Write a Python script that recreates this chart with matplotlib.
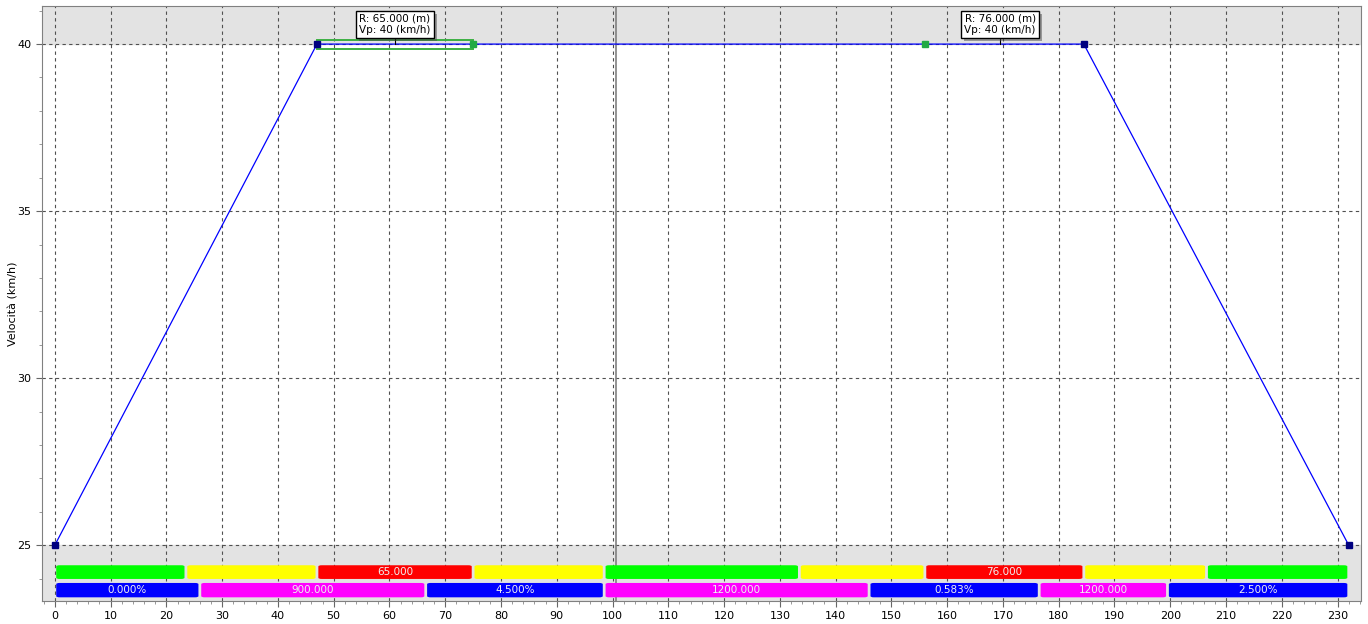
import matplotlib
matplotlib.use('Agg')
import matplotlib.pyplot as plt
import matplotlib.patheffects as pe
from matplotlib.patches import FancyBboxPatch, Rectangle
from matplotlib.ticker import MultipleLocator

# speed profile
prof_x = [0, 47, 184.5, 232]
prof_v = [25, 40, 40, 25]
green_pts_x = [75, 156]

# curve labels
curve_labels = ['R: 65.000 (m)\nVp: 40 (km/h)', 'R: 76.000 (m)\nVp: 40 (km/h)']
curve_label_x = [61, 169.5]

# plan row
plan_start = [0, 23.5, 47, 75, 98.5, 133.5, 156, 184.5, 206.5]
plan_end = [23.5, 47, 75, 98.5, 133.5, 156, 184.5, 206.5, 232]
plan_kind = ['g', 'y', 'r', 'y', 'g', 'y', 'r', 'y', 'g']
plan_text = ['', '', '65.000', '', '', '', '76.000', '', '']

# profile row
vert_start = [0, 26, 66.5, 98.5, 146, 176.5, 199.5]
vert_end = [26, 66.5, 98.5, 146, 176.5, 199.5, 232]
vert_kind = ['b', 'm', 'b', 'm', 'b', 'm', 'b']
vert_text = ['0.000%', '900.000', '4.500%', '1200.000', '0.583%', '1200.000', '2.500%']

colors = {'g': '#00ff00', 'y': '#ffff00', 'r': '#ff0000', 'b': '#0000ff', 'm': '#ff00ff'}

fig = plt.figure(figsize=(13.68, 6.24), dpi=100)
ax = fig.add_axes([42 / 1368, 1 - 601 / 624, 1319 / 1368, 595 / 624])
xmin, xmax = -2.3, 234.2
ymin, ymax = 23.33, 41.14
ax.set_xlim(xmin, xmax)
ax.set_ylim(ymin, ymax)

# grey bands
ax.axhspan(40, ymax, color='#e3e3e3', zorder=0)
ax.axhspan(ymin, 25, color='#e3e3e3', zorder=0)

ax.xaxis.set_major_locator(MultipleLocator(10))
ax.xaxis.set_minor_locator(MultipleLocator(2))
ax.yaxis.set_major_locator(MultipleLocator(5))
ax.yaxis.set_minor_locator(MultipleLocator(1))
ax.grid(True, which='major', color='#505050', linestyle=(0, (3, 3)), linewidth=0.8, zorder=1)
ax.tick_params(labelsize=8, length=4, color='#666666')
ax.tick_params(which='minor', length=2, color='#888888')
for s in ax.spines.values():
    s.set_color('#808080')
ax.set_ylabel('Velocità (km/h)', fontsize=8)
ax.yaxis.set_label_coords(-0.018, 0.5)

ax.axvline(100.7, color='#808080', linewidth=1.2, zorder=2)

# green box around first curve
ax.add_patch(Rectangle((47, 39.86), 28, 0.26, fill=False, edgecolor='#3cb043', linewidth=1.4, zorder=3))

ax.plot(prof_x, prof_v, color='#0000ff', linewidth=0.9, zorder=4)
ax.plot(prof_x, prof_v, 's', color='#000080', markersize=4, linestyle='none', zorder=5)
ax.plot(green_pts_x, [40] * len(green_pts_x), 's', color='#22aa44', markersize=4, linestyle='none', zorder=5)

for lbl, cx in zip(curve_labels, curve_label_x):
    ax.plot([cx, cx], [40, 40.2], color='black', linewidth=0.8, zorder=5)
    t = ax.text(cx, 40.27, lbl, ha='center', va='bottom', fontsize=7.5, zorder=6,
                linespacing=1.15,
                bbox=dict(boxstyle='square,pad=0.3', facecolor='white', edgecolor='black', linewidth=1))
    t.get_bbox_patch().set_path_effects([pe.SimplePatchShadow(offset=(2, -2), alpha=0.5), pe.Normal()])

def draw_row(starts, ends, kinds, texts, y0, h):
    for s, e, k, t in zip(starts, ends, kinds, texts):
        ax.add_patch(FancyBboxPatch((s + 0.25, y0), e - s - 0.5, h,
                                    boxstyle='round,pad=0,rounding_size=0.6',
                                    mutation_aspect=0.06,
                                    facecolor=colors[k], edgecolor='none', zorder=3))
        if t:
            ax.text((s + e) / 2, y0 + h / 2, t, ha='center', va='center',
                    fontsize=7.5, color='#f0f0f0', zorder=4)

draw_row(plan_start, plan_end, plan_kind, plan_text, 23.99, 0.41)
draw_row(vert_start, vert_end, vert_kind, vert_text, 23.44, 0.43)

fig.savefig('out.png', dpi=100)
